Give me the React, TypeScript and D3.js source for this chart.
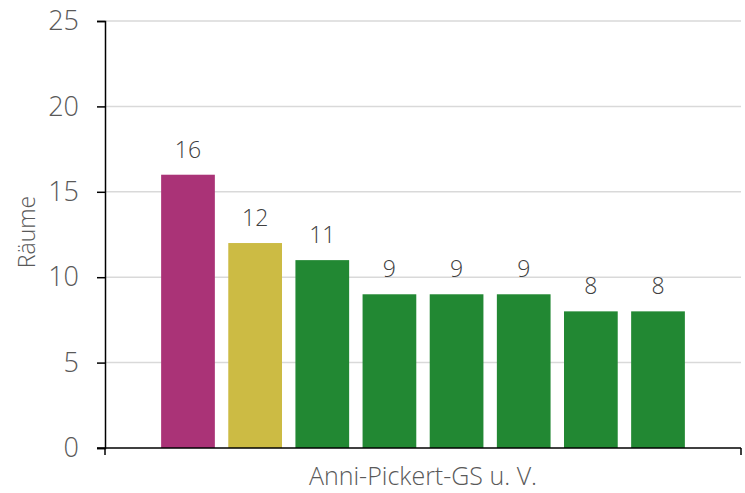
import React, { useEffect, useRef } from "react";
import * as d3 from "d3";

const category = "Anni-Pickert-GS u. V.";
const rooms = ["R1", "R2", "R3", "R4", "R5", "R6", "R7", "R8"];
const values = [16, 12, 11, 9, 9, 9, 8, 8];
const colors = ["#AA3377", "#CCBB44", "#228833", "#228833", "#228833", "#228833", "#228833", "#228833"];
const yTicks = [0, 5, 10, 15, 20, 25];

const App = () => {
  const ref = useRef<SVGSVGElement>(null);

  useEffect(() => {
    const width = 745;
    const height = 493;
    const margin = { top: 21, right: 4, bottom: 45, left: 105 };
    const innerW = width - margin.left - margin.right;
    const innerH = height - margin.top - margin.bottom;
    const font = "'Open Sans', 'Noto Sans', sans-serif";

    const svg = d3.select(ref.current);
    svg.selectAll("*").remove();

    const g = svg
      .append("g")
      .attr("transform", `translate(${margin.left},${margin.top})`);

    const y = d3.scaleLinear().domain([0, 25]).range([innerH, 0]);

    const x0 = d3
      .scaleBand()
      .domain([category])
      .range([0, innerW])
      .paddingInner(0)
      .paddingOuter(0.092);

    const x1 = d3
      .scaleBand()
      .domain(rooms)
      .range([0, x0.bandwidth()])
      .paddingInner(0.2)
      .paddingOuter(0.1);

    // gridlines
    g.selectAll(".grid")
      .data(yTicks.filter((t) => t > 0))
      .enter()
      .append("line")
      .attr("x1", 0)
      .attr("x2", innerW)
      .attr("y1", (d) => y(d))
      .attr("y2", (d) => y(d))
      .attr("stroke", "#d9d9d9")
      .attr("stroke-width", 1.5);

    // bars
    const bx = x0(category) ?? 0;
    g.selectAll(".bar")
      .data(values)
      .enter()
      .append("rect")
      .attr("x", (d, i) => bx + (x1(rooms[i]) ?? 0))
      .attr("y", (d) => y(d))
      .attr("width", x1.bandwidth())
      .attr("height", (d) => innerH - y(d))
      .attr("fill", (d, i) => colors[i]);

    // value labels
    g.selectAll(".lbl")
      .data(values)
      .enter()
      .append("text")
      .attr("x", (d, i) => bx + (x1(rooms[i]) ?? 0) + x1.bandwidth() / 2)
      .attr("y", (d) => y(d) - 17)
      .attr("text-anchor", "middle")
      .attr("font-family", font)
      .attr("font-weight", 300)
      .attr("font-size", 23)
      .attr("fill", "#404040")
      .text((d) => d);

    // y axis
    const yAxis = g
      .append("g")
      .call(d3.axisLeft(y).tickValues(yTicks).tickSize(8).tickPadding(18));
    yAxis.select(".domain").attr("stroke", "#000").attr("stroke-width", 1.5);
    yAxis.selectAll(".tick line").attr("stroke", "#000").attr("stroke-width", 1.5);
    yAxis
      .selectAll(".tick text")
      .attr("font-family", font)
      .attr("font-weight", 300)
      .attr("font-size", 27)
      .attr("fill", "#595959");

    // x axis
    g.append("line")
      .attr("x1", -8)
      .attr("x2", innerW)
      .attr("y1", innerH)
      .attr("y2", innerH)
      .attr("stroke", "#000")
      .attr("stroke-width", 1.5);
    g.selectAll(".xt")
      .data([0, innerW])
      .enter()
      .append("line")
      .attr("x1", (d) => d)
      .attr("x2", (d) => d)
      .attr("y1", innerH)
      .attr("y2", innerH + 7)
      .attr("stroke", "#000")
      .attr("stroke-width", 1.5);

    // axis titles
    g.append("text")
      .attr("x", bx + x0.bandwidth() / 2)
      .attr("y", innerH + 37)
      .attr("text-anchor", "middle")
      .attr("font-family", font)
      .attr("font-weight", 300)
      .attr("font-size", 25)
      .attr("fill", "#595959")
      .text(category);

    svg
      .append("text")
      .attr("transform", `translate(35,232) rotate(-90)`)
      .attr("text-anchor", "middle")
      .attr("font-family", font)
      .attr("font-weight", 300)
      .attr("font-size", 23)
      .attr("fill", "#595959")
      .text("Räume");
  }, []);

  return (
    <svg
      ref={ref}
      width={745}
      height={493}
      style={{ position: "absolute", left: 0, top: 0, background: "#fff" }}
    />
  );
};

export default App;
